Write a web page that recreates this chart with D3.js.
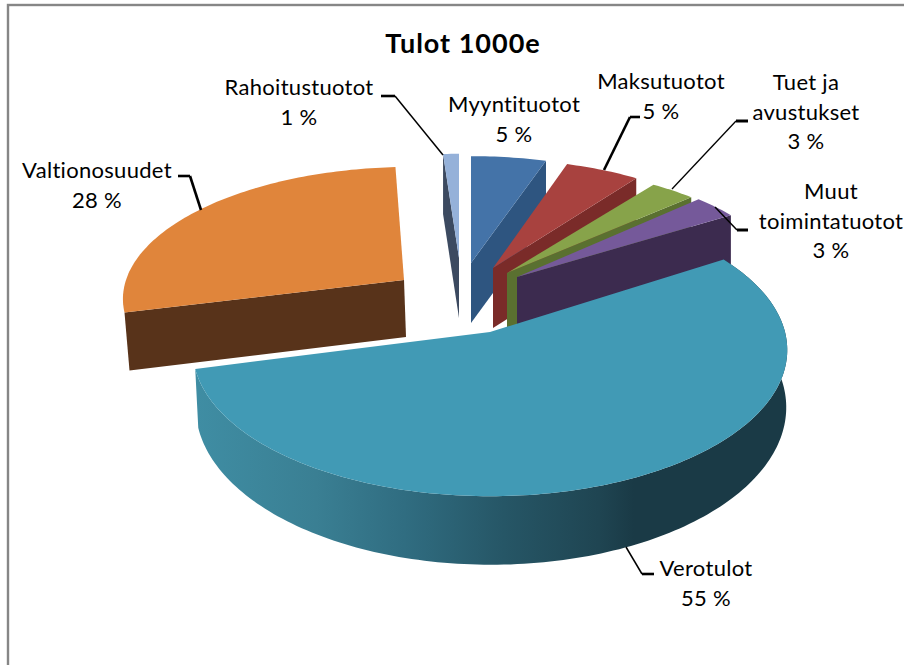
<!DOCTYPE html>
<html><head><meta charset="utf-8">
<script src="https://cdn.jsdelivr.net/npm/d3@7/dist/d3.min.js"></script>
<style>html,body{margin:0;padding:0;background:#fff}svg{display:block}text{font-family:Lato,"Open Sans",sans-serif;fill:#000}</style>
</head><body>
<script>
// ---- data ----
const categories = ["Myyntituotot","Maksutuotot","Tuet ja avustukset","Muut toimintatuotot","Verotulot","Valtionosuudet","Rahoitustuotot"];
const shares = [5,5,3,3,55,28,1];
const chartTitle = "Tulot 1000e";
const labelLines = [["Myyntituotot","5 %"],["Maksutuotot","5 %"],["Tuet ja","avustukset","3 %"],["Muut","toimintatuotot","3 %"],["Verotulot","55 %"],["Valtionosuudet","28 %"],["Rahoitustuotot","1 %"]];
// ---- styles ----
const topColors  = ["#4473a8","#a8423f","#87a34a","#75599a","#419ab5","#e0853b","#95b1d9"];
const sideColors = ["#2e5580","#7a2b29","#5a7030","#3c2b4f","url(#wall)","#58331a","#3c4a60"];
// ---- layout: where each exploded wedge lands ----
const apexX = [471,493,507,517,490,404,459];
const apexY = [263,268,273,277,332,280,258];
const radX  = [271,268,274,270,295,278,285];
const radY  = [120,122,120,123,144,127,117];
const skewX = [0,0,0,0,0,7,0];
const depth = [60,60,60,60,56,57,60];
const persp = 0.123;
const wallDisc = {x:491,y:388,rx:293,ry:155};
const drawOrder = [6,0,1,2,3,5,4];
const labelX = [514,661,806,831,706,97,299];
const labelY = [112,89,90,199,576,178,95];
const lineGap = 29.5;
const stubs = [null,[[640,117],[630,117]],[[748,121],[736,121]],[[748,230],[737,230]],[[654,574],[642,574]],[[178,176],[190,176]],[[381,96],[395,96]]];
const stubW = [0,2.6,3,3,2.6,2.6,2.6];
const diagonals = [null,[[630,117],[604,170]],[[736,121],[672,189]],[[737,230],[715,207]],[[642,574],[626,547]],[[190,176],[201,210]],[[395,96],[443,155]]];
const diagW = [0,2.6,1.3,1.5,1.5,2.6,1.5];

const W=904,H=665;
const svg=d3.select("body").append("svg").attr("width",W).attr("height",H);
const defs=svg.append("defs");
const wall=defs.append("linearGradient").attr("id","wall").attr("gradientUnits","userSpaceOnUse")
  .attr("x1",198).attr("x2",787).attr("y1",0).attr("y2",0);
[[0,"#3f8da3"],[0.2,"#3a7f93"],[0.35,"#306d81"],[0.52,"#265666"],[0.68,"#1f4552"],[0.74,"#1a3a46"],[1,"#1a3a46"]]
 .forEach(s=>wall.append("stop").attr("offset",s[0]).attr("stop-color",s[1]));

svg.append("rect").attr("x",8).attr("y",5).attr("width",W+20).attr("height",H+20)
  .attr("fill","#fff").attr("stroke","#868686").attr("stroke-width",2.4);

const arcs=d3.pie().sort(null).value(d=>d).startAngle(0).endAngle(2*Math.PI)(shares);

function project(i,a,r){
  const u=Math.sin(a)*r, v=-Math.cos(a)*r, f=1-persp*v;
  return [apexX[i]+radX[i]*u/f-skewX[i]*v, apexY[i]+radY[i]*v/f];
}
function projectWall(a){
  const u=Math.sin(a), v=-Math.cos(a), f=1-persp*v;
  return [wallDisc.x+wallDisc.rx*u/f, wallDisc.y+wallDisc.ry*v/f];
}
const path=d3.line();
function sample(a0,a1,fn){
  const n=Math.max(2,Math.ceil(Math.abs(a1-a0)/0.02));
  return d3.range(n+1).map(k=>fn(a0+(a1-a0)*k/n));
}
const g=svg.append("g");
drawOrder.forEach(i=>{
  const d=arcs[i],a0=d.startAngle,a1=d.endAngle,D=depth[i];
  const apex=project(i,0,0);
  const rim=a=>project(i,a,1);
  if(i===4){
    const top=sample(a0,a1,rim),bot=sample(a1,a0,projectWall);
    g.append("path").attr("d",path(top.concat(bot))+"Z").attr("fill",sideColors[i]);
  } else if(i===5){
    const e=rim(a0);
    g.append("path").attr("d",path([apex,e,[e[0]+5,e[1]+D+1],[apex[0]+2,apex[1]+D]])+"Z").attr("fill",sideColors[i]);
  } else {
    const e=rim(i===6?a0:a1);
    g.append("path").attr("d",path([apex,e,[e[0],e[1]+D],[apex[0],apex[1]+D]])+"Z").attr("fill",sideColors[i]);
  }
  g.append("path").attr("d",path([apex].concat(sample(a0,a1,rim)))+"Z").attr("fill",topColors[i]);
});

stubs.forEach((l,i)=>{ if(l) svg.append("path").attr("d",path(l)).attr("fill","none").attr("stroke","#000").attr("stroke-width",stubW[i]);});
diagonals.forEach((l,i)=>{ if(l) svg.append("path").attr("d",path(l)).attr("fill","none").attr("stroke","#000").attr("stroke-width",diagW[i]);});

svg.append("text").attr("x",463).attr("y",53).attr("text-anchor","middle").attr("font-size",27).attr("letter-spacing",1).attr("font-weight",700).text(chartTitle);
labelLines.forEach((ls,i)=>ls.forEach((t,k)=>{
  svg.append("text").attr("x",labelX[i]).attr("y",labelY[i]+k*lineGap).attr("text-anchor","middle").attr("font-size",22).attr("letter-spacing",0.3).text(t);
}));
</script>
</body></html>
